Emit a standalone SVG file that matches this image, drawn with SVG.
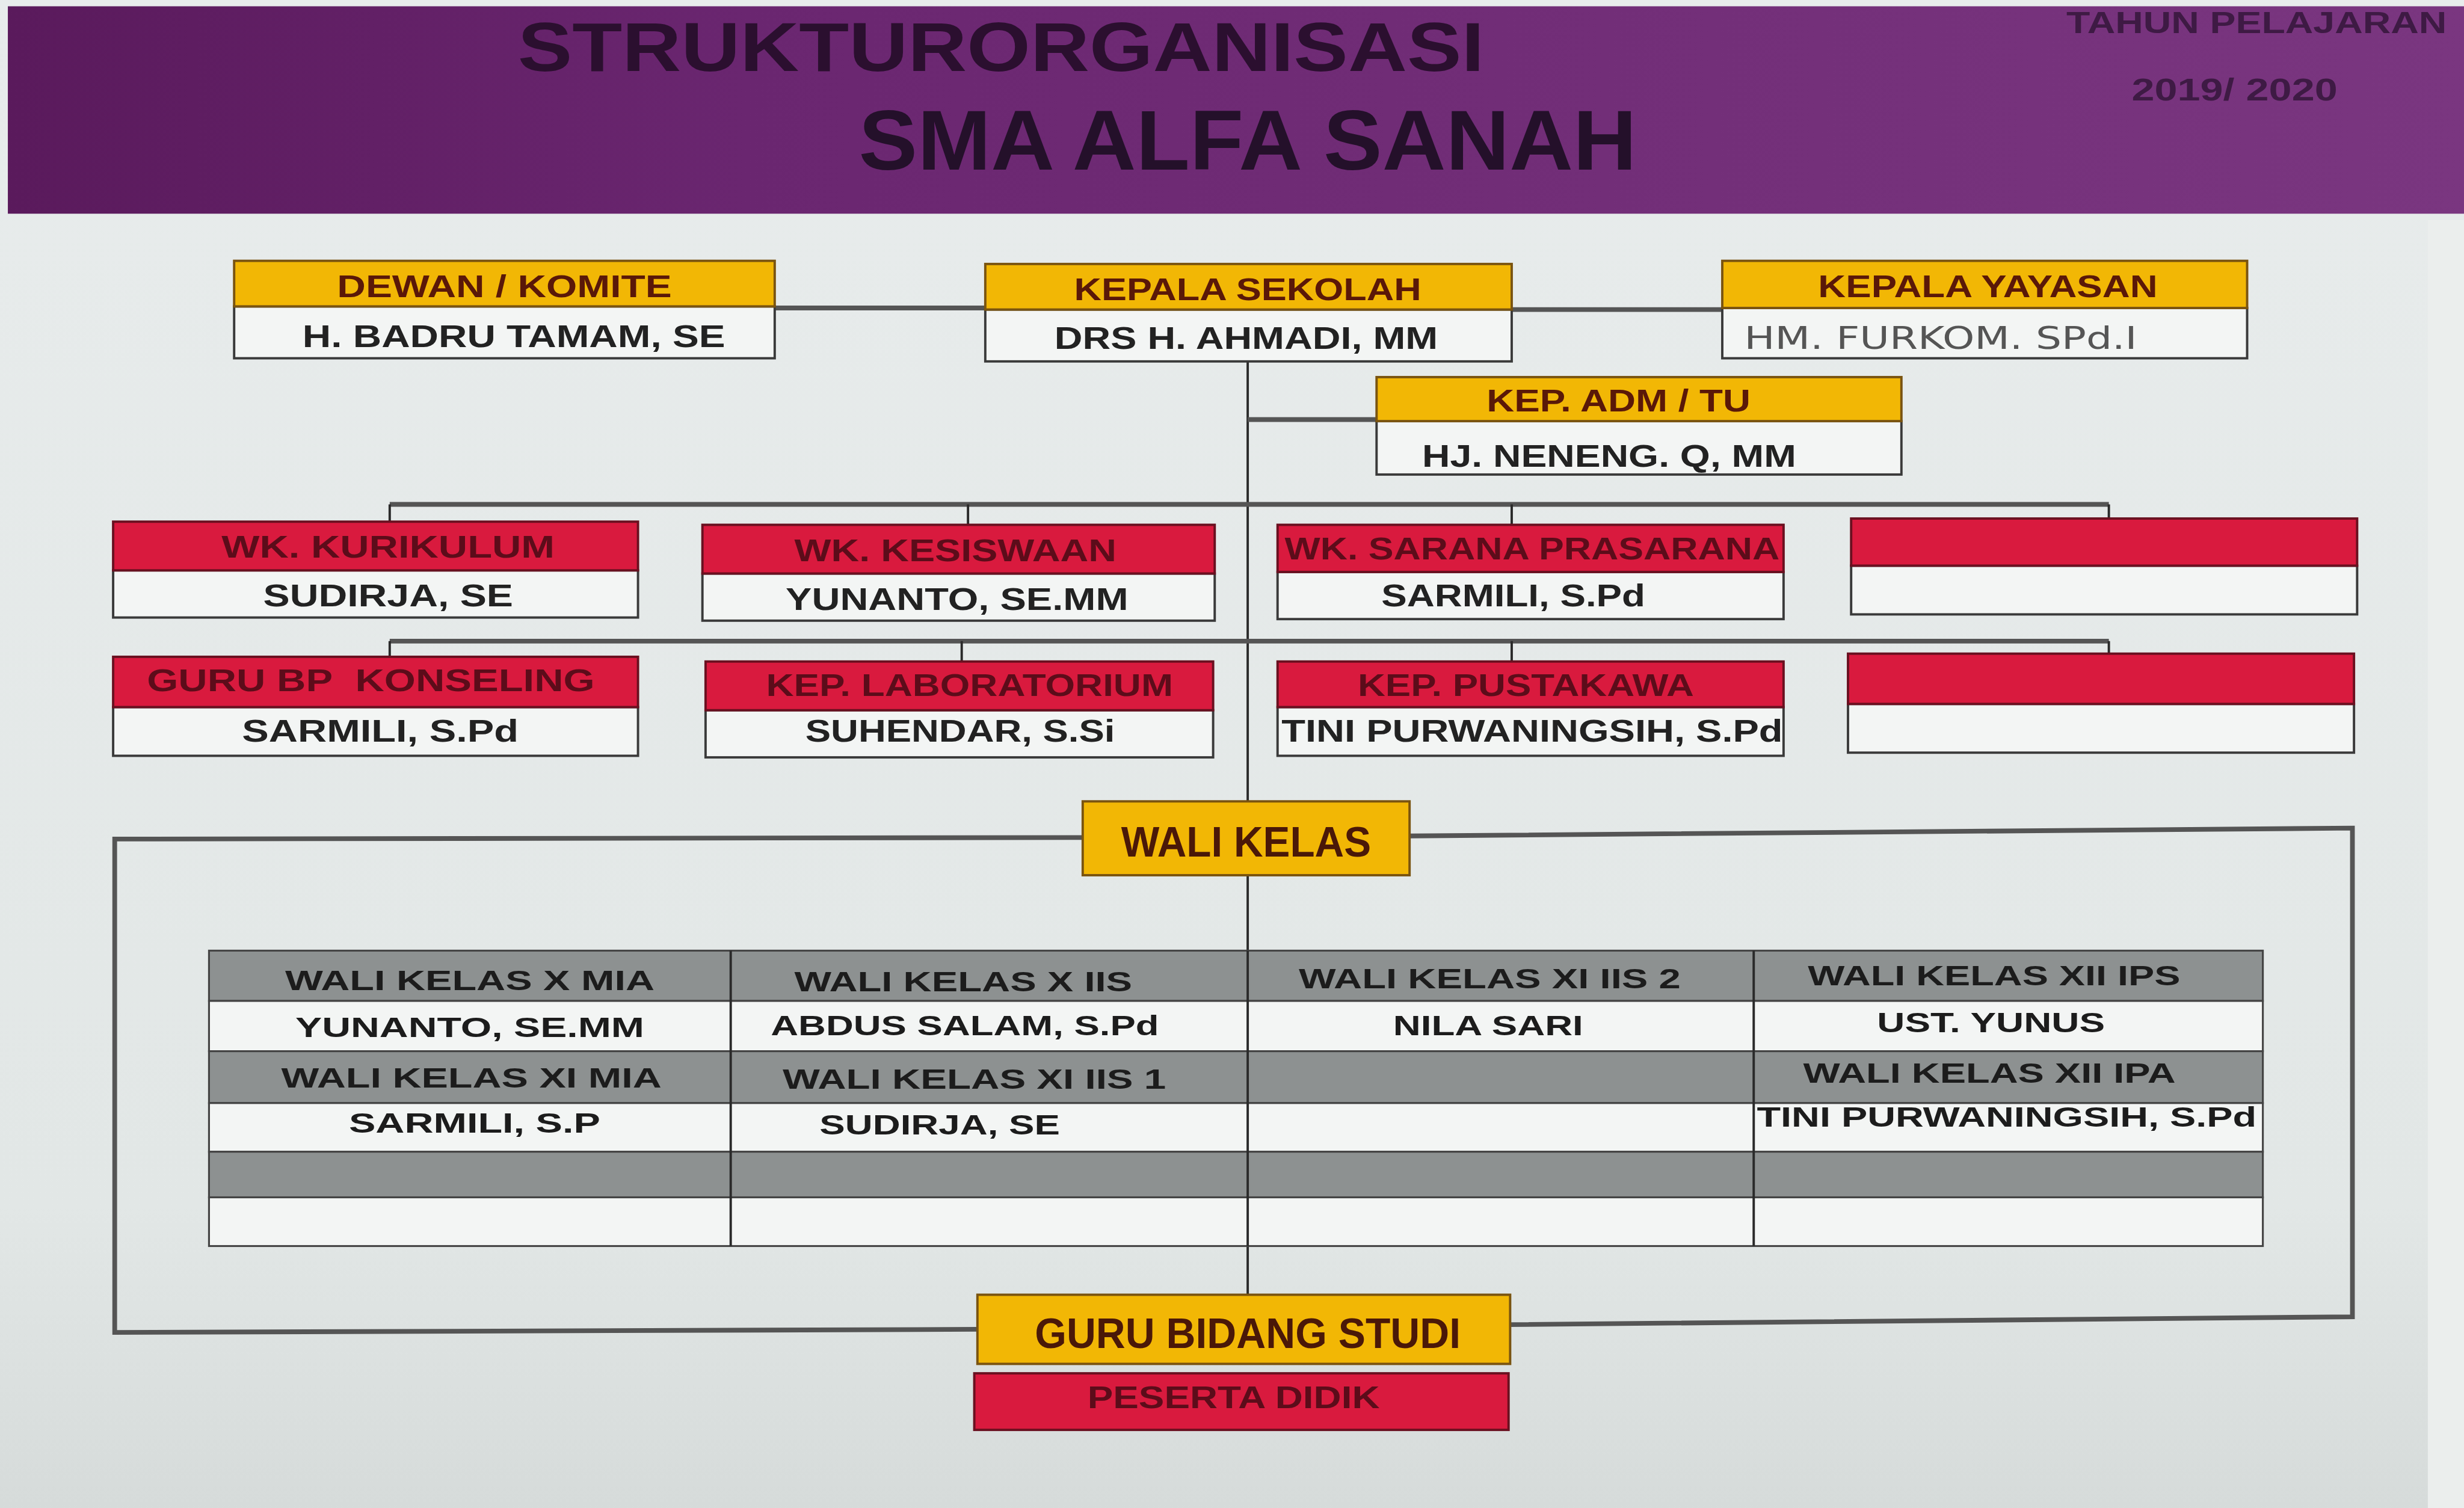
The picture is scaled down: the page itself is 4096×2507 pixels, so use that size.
<svg xmlns="http://www.w3.org/2000/svg" width="4096" height="2507" viewBox="0 0 4096 2507">
<defs>
<linearGradient id="purple" x1="0" y1="0" x2="1" y2="0">
<stop offset="0" stop-color="#5a1a5c"/>
<stop offset="0.3" stop-color="#6a2670"/>
<stop offset="1" stop-color="#7a3680"/>
</linearGradient>
<linearGradient id="board" x1="0" y1="0" x2="0" y2="1">
<stop offset="0" stop-color="#e8ecec"/>
<stop offset="0.8" stop-color="#e2e7e6"/>
<stop offset="1" stop-color="#d6dbda"/>
</linearGradient>
<style>
.t{font-family:"Liberation Sans","Arial",sans-serif;font-weight:bold;text-anchor:middle}
.yl{fill:#f2b705;stroke:#7a5410;stroke-width:1.5}
.rd{fill:#d91a3e;stroke:#6a1020;stroke-width:1.5}
.wh{fill:#f3f5f4;stroke:#3a3a3a;stroke-width:1.5}
.gr{fill:#8d9191;stroke:#444;stroke-width:1.2}
.tb{fill:#f3f5f4;stroke:#444;stroke-width:1.2}
.ht{fill:#5a1808;font-size:20px}
.rt{fill:#5c0c1a;font-size:20px}
.nm{fill:#222;font-size:20px}
.ct{fill:#1c1c1c;font-size:18px}
.ln{stroke:#555;stroke-width:3;fill:none}
.lv{stroke:#2a2a2a;stroke-width:1.5;fill:none}
</style>
</defs>
<g transform="scale(2.61224)">
<rect x="0" y="0" width="1568" height="960" fill="url(#board)"/>
<rect x="1545" y="140" width="23" height="820" fill="#ebeeed"/>
<g id="header">
<rect x="5" y="4" width="1563" height="132" fill="url(#purple)"/>
<text class="t" x="637" y="45" font-size="44" fill="#2b0f2f" textLength="615" lengthAdjust="spacingAndGlyphs">STRUKTURORGANISASI</text>
<text class="t" x="794" y="108" font-size="54" fill="#24102a" textLength="495" lengthAdjust="spacingAndGlyphs">SMA ALFA SANAH</text>
<text class="t" x="1436" y="21" font-size="19" fill="#3e1a44" textLength="242" lengthAdjust="spacingAndGlyphs">TAHUN PELAJARAN</text>
<text class="t" x="1422" y="64" font-size="20" fill="#3e1a44" textLength="131" lengthAdjust="spacingAndGlyphs">2019/ 2020</text>
</g>
<g id="connectors">
<line class="ln" x1="493" y1="196" x2="627" y2="196"/>
<line class="ln" x1="962" y1="197" x2="1096" y2="197"/>
<line class="lv" x1="794" y1="230" x2="794" y2="825"/>
<line class="ln" x1="794" y1="267" x2="876" y2="267"/>
<line class="ln" x1="248" y1="321" x2="1342" y2="321"/>
<line class="lv" x1="248" y1="321" x2="248" y2="332"/>
<line class="lv" x1="616" y1="321" x2="616" y2="334"/>
<line class="lv" x1="962" y1="321" x2="962" y2="334"/>
<line class="lv" x1="1342" y1="321" x2="1342" y2="330"/>
<line class="ln" x1="248" y1="408" x2="1342" y2="408"/>
<line class="lv" x1="248" y1="408" x2="248" y2="418"/>
<line class="lv" x1="612" y1="408" x2="612" y2="421"/>
<line class="lv" x1="962" y1="408" x2="962" y2="421"/>
<line class="lv" x1="1342" y1="408" x2="1342" y2="416"/>
<polyline class="ln" points="689,533 73,534 73,848 622,846"/>
<polyline class="ln" points="897,532 1497,527 1497,838 961,843"/>
</g>
<g id="dewan-komite">
<rect class="wh" x="149" y="195" width="344" height="33"/>
<rect class="yl" x="149" y="166" width="344" height="29"/>
<text class="t ht" x="321" y="189" textLength="213" lengthAdjust="spacingAndGlyphs">DEWAN / KOMITE</text>
<text class="t nm" x="327" y="221" textLength="269" lengthAdjust="spacingAndGlyphs">H. BADRU TAMAM, SE</text>
</g>
<g id="kepala-sekolah">
<rect class="wh" x="627" y="197" width="335" height="33"/>
<rect class="yl" x="627" y="168" width="335" height="29"/>
<text class="t ht" x="794" y="191" textLength="221" lengthAdjust="spacingAndGlyphs">KEPALA SEKOLAH</text>
<text class="t nm" x="793" y="222" textLength="244" lengthAdjust="spacingAndGlyphs">DRS H. AHMADI, MM</text>
</g>
<g id="kepala-yayasan">
<rect class="wh" x="1096" y="196" width="334" height="32"/>
<rect class="yl" x="1096" y="166" width="334" height="30"/>
<text class="t ht" x="1265" y="189" textLength="216" lengthAdjust="spacingAndGlyphs">KEPALA YAYASAN</text>
<text x="1110" y="222" font-family="DejaVu Sans,sans-serif" font-size="20" fill="#555" textLength="250" lengthAdjust="spacingAndGlyphs">HM. FURKOM. SPd.I</text>
</g>
<g id="kep-adm-tu">
<rect class="wh" x="876" y="268" width="334" height="34"/>
<rect class="yl" x="876" y="240" width="334" height="28"/>
<text class="t ht" x="1030" y="262" textLength="168" lengthAdjust="spacingAndGlyphs">KEP. ADM / TU</text>
<text class="t nm" x="1024" y="297" textLength="238" lengthAdjust="spacingAndGlyphs">HJ. NENENG. Q, MM</text>
</g>
<g id="wk-kurikulum">
<rect class="wh" x="72" y="363" width="334" height="30"/>
<rect class="rd" x="72" y="332" width="334" height="31"/>
<text class="t rt" x="247" y="355" textLength="212" lengthAdjust="spacingAndGlyphs">WK. KURIKULUM</text>
<text class="t nm" x="247" y="386" textLength="159" lengthAdjust="spacingAndGlyphs">SUDIRJA, SE</text>
</g>
<g id="wk-kesiswaan">
<rect class="wh" x="447" y="365" width="326" height="30"/>
<rect class="rd" x="447" y="334" width="326" height="31"/>
<text class="t rt" x="608" y="357" textLength="205" lengthAdjust="spacingAndGlyphs">WK. KESISWAAN</text>
<text class="t nm" x="609" y="388" textLength="218" lengthAdjust="spacingAndGlyphs">YUNANTO, SE.MM</text>
</g>
<g id="wk-sarana-prasarana">
<rect class="wh" x="813" y="364" width="322" height="30"/>
<rect class="rd" x="813" y="334" width="322" height="30"/>
<text class="t rt" x="975" y="356" textLength="315" lengthAdjust="spacingAndGlyphs">WK. SARANA PRASARANA</text>
<text class="t nm" x="963" y="386" textLength="168" lengthAdjust="spacingAndGlyphs">SARMILI, S.Pd</text>
</g>
<g id="empty-1">
<rect class="wh" x="1178" y="360" width="322" height="31"/>
<rect class="rd" x="1178" y="330" width="322" height="30"/>
</g>
<g id="guru-bp-konseling">
<rect class="wh" x="72" y="450" width="334" height="31"/>
<rect class="rd" x="72" y="418" width="334" height="32"/>
<text class="t rt" x="236" y="440" textLength="285" lengthAdjust="spacingAndGlyphs">GURU BP&#160;&#160;KONSELING</text>
<text class="t nm" x="242" y="472" textLength="176" lengthAdjust="spacingAndGlyphs">SARMILI, S.Pd</text>
</g>
<g id="kep-laboratorium">
<rect class="wh" x="449" y="452" width="323" height="30"/>
<rect class="rd" x="449" y="421" width="323" height="31"/>
<text class="t rt" x="617" y="443" textLength="259" lengthAdjust="spacingAndGlyphs">KEP. LABORATORIUM</text>
<text class="t nm" x="611" y="472" textLength="197" lengthAdjust="spacingAndGlyphs">SUHENDAR, S.Si</text>
</g>
<g id="kep-pustakawa">
<rect class="wh" x="813" y="450" width="322" height="31"/>
<rect class="rd" x="813" y="421" width="322" height="29"/>
<text class="t rt" x="971" y="443" textLength="214" lengthAdjust="spacingAndGlyphs">KEP. PUSTAKAWA</text>
<text class="t nm" x="975" y="472" textLength="319" lengthAdjust="spacingAndGlyphs">TINI PURWANINGSIH, S.Pd</text>
</g>
<g id="empty-2">
<rect class="wh" x="1176" y="448" width="322" height="31"/>
<rect class="rd" x="1176" y="416" width="322" height="32"/>
</g>
<g id="wali-kelas">
<rect class="yl" x="689" y="510" width="208" height="47"/>
<text class="t" x="793" y="545" font-size="27" font-weight="normal" fill="#4a1808" textLength="159" lengthAdjust="spacingAndGlyphs">WALI KELAS</text>
</g>
<g id="wali-kelas-table">
<rect class="gr" x="133" y="605" width="1307" height="32"/>
<rect class="tb" x="133" y="637" width="1307" height="32"/>
<rect class="gr" x="133" y="669" width="1307" height="33"/>
<rect class="tb" x="133" y="702" width="1307" height="31"/>
<rect class="gr" x="133" y="733" width="1307" height="29"/>
<rect class="tb" x="133" y="762" width="1307" height="31"/>
<line class="lv" x1="465" y1="605" x2="465" y2="793"/>
<line class="lv" x1="794" y1="605" x2="794" y2="793"/>
<line class="lv" x1="1116" y1="605" x2="1116" y2="793"/>
<text class="t ct" x="299" y="630" textLength="235" lengthAdjust="spacingAndGlyphs">WALI KELAS X MIA</text>
<text class="t ct" x="613" y="631" textLength="215" lengthAdjust="spacingAndGlyphs">WALI KELAS X IIS</text>
<text class="t ct" x="948" y="629" textLength="243" lengthAdjust="spacingAndGlyphs">WALI KELAS XI IIS 2</text>
<text class="t ct" x="1269" y="627" textLength="237" lengthAdjust="spacingAndGlyphs">WALI KELAS XII IPS</text>
<text class="t ct" x="299" y="660" textLength="222" lengthAdjust="spacingAndGlyphs">YUNANTO, SE.MM</text>
<text class="t ct" x="614" y="659" textLength="247" lengthAdjust="spacingAndGlyphs">ABDUS SALAM, S.Pd</text>
<text class="t ct" x="947" y="659" textLength="121" lengthAdjust="spacingAndGlyphs">NILA SARI</text>
<text class="t ct" x="1267" y="657" textLength="145" lengthAdjust="spacingAndGlyphs">UST. YUNUS</text>
<text class="t ct" x="300" y="692" textLength="242" lengthAdjust="spacingAndGlyphs">WALI KELAS XI MIA</text>
<text class="t ct" x="620" y="693" textLength="244" lengthAdjust="spacingAndGlyphs">WALI KELAS XI IIS 1</text>
<text class="t ct" x="1266" y="689" textLength="237" lengthAdjust="spacingAndGlyphs">WALI KELAS XII IPA</text>
<text class="t ct" x="302" y="721" textLength="160" lengthAdjust="spacingAndGlyphs">SARMILI, S.P</text>
<text class="t ct" x="598" y="722" textLength="153" lengthAdjust="spacingAndGlyphs">SUDIRJA, SE</text>
<text class="t ct" x="1277" y="717" textLength="318" lengthAdjust="spacingAndGlyphs">TINI PURWANINGSIH, S.Pd</text>
</g>
<g id="guru-bidang-studi">
<rect class="yl" x="622" y="824" width="339" height="44"/>
<text class="t" x="794" y="858" font-size="27" font-weight="normal" fill="#4a1808" textLength="271" lengthAdjust="spacingAndGlyphs">GURU BIDANG STUDI</text>
</g>
<g id="peserta-didik">
<rect class="rd" x="620" y="874" width="340" height="36"/>
<text class="t rt" x="785" y="896" textLength="186" lengthAdjust="spacingAndGlyphs">PESERTA DIDIK</text>
</g>
</g>
</svg>
